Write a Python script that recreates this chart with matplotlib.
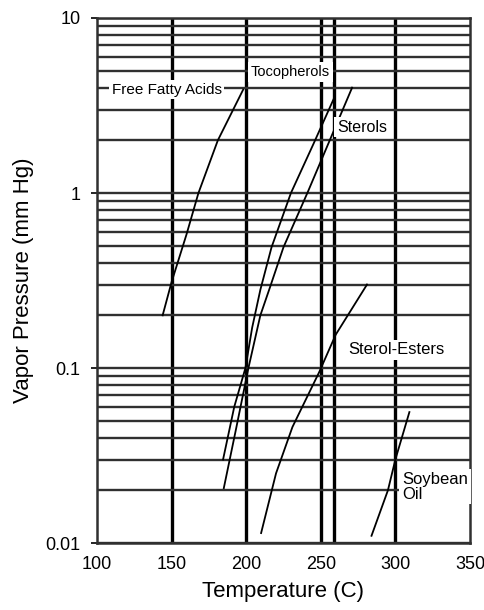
# Vapor pressure of soybean oil components vs temperature
import matplotlib.pyplot as plt
from matplotlib.ticker import FixedLocator, FixedFormatter, LogLocator, NullFormatter

plt.rcParams['font.family'] = ['Liberation Sans', 'DejaVu Sans']

# values (temperature in C, pressure in mm Hg)
ffa_t = [144, 150, 160, 168, 181, 198]
ffa_p = [0.2, 0.31, 0.58, 1.0, 2.0, 3.9]

toco_t = [184.5, 192, 199.5, 204, 209.5, 217, 230, 245, 259]
toco_p = [0.03, 0.06, 0.1, 0.17, 0.28, 0.49, 1.0, 1.9, 3.5]

ster_t = [185, 193, 201.5, 209.5, 216, 225, 241, 256, 271]
ster_p = [0.0206, 0.044, 0.1, 0.2, 0.29, 0.49, 1.0, 2.0, 4.0]

sest_t = [210, 220, 231, 249, 260, 281]
sest_p = [0.0114, 0.025, 0.046, 0.095, 0.155, 0.3]

soy_t = [284, 295, 300, 309.4]
soy_p = [0.011, 0.02, 0.03, 0.056]

x_ticks = [100, 150, 200, 250, 300, 350]
y_ticks = [0.01, 0.1, 1, 10]
y_tick_labels = ['0.01', '0.1', '1', '10']
v_lines = [150, 200, 250, 259, 300]

fig = plt.figure(figsize=(4.85, 6.1), dpi=100)
ax = fig.add_axes([0.2, 0.1098, 0.769, 0.8607])

ax.set_yscale('log')
ax.set_xlim(100, 350)
ax.set_ylim(0.01, 10)

# log grid, all lines the same weight
ax.yaxis.set_major_locator(FixedLocator(y_ticks))
ax.yaxis.set_major_formatter(FixedFormatter(y_tick_labels))
ax.yaxis.set_minor_locator(LogLocator(base=10, subs=range(2, 10)))
ax.yaxis.set_minor_formatter(NullFormatter())
ax.yaxis.grid(True, which='both', color='#303030', lw=1.7, zorder=1)
for v in v_lines:
    ax.axvline(v, color='black', lw=2.4, zorder=1)

ax.set_xticks(x_ticks)
ax.tick_params(axis='x', length=0, pad=9, labelsize=13)
ax.tick_params(axis='y', which='major', length=4, width=1.2, pad=8, labelsize=13)
ax.tick_params(axis='y', which='minor', length=0)
for s in ax.spines.values():
    s.set_color('#303030')
    s.set_linewidth(1.8)

for t, p in [(ffa_t, ffa_p), (toco_t, toco_p), (ster_t, ster_p),
             (sest_t, sest_p), (soy_t, soy_p)]:
    ax.plot(t, p, color='black', lw=1.3, zorder=3)

box = dict(fc='white', ec='none', pad=2)
ax.text(146.7, 3.9, 'Free Fatty Acids', fontsize=11, ha='center', va='center', bbox=box, zorder=5)
ax.text(229.7, 4.9, 'Tocopherols', fontsize=10.5, ha='center', va='center', bbox=box, zorder=5)
ax.text(260.8, 2.38, 'Sterols', fontsize=11.5, ha='left', va='center', bbox=box, zorder=5)
ax.text(300.6, 0.127, 'Sterol-Esters', fontsize=12, ha='center', va='center', bbox=box, zorder=5)
ax.text(304.4, 0.021, 'Soybean\nOil', fontsize=12, ha='left', va='center',
        linespacing=1.0, bbox=box, zorder=5)

ax.set_xlabel('Temperature (C)', fontsize=16, labelpad=6)
ax.set_ylabel('Vapor Pressure (mm Hg)', fontsize=16, labelpad=8)

fig.savefig('out.png', dpi=100)
